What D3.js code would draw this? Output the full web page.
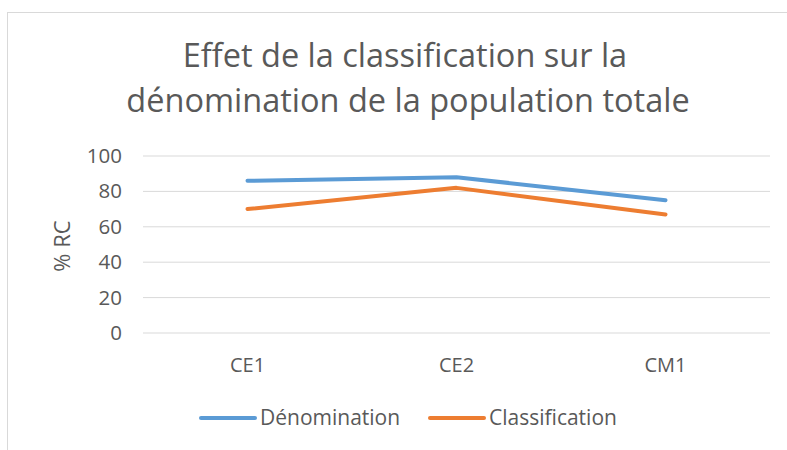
<!DOCTYPE html>
<html>
<head>
<meta charset="utf-8">
<script src="https://cdn.jsdelivr.net/npm/d3@7"></script>
<style>
  body { margin: 0; background: #fff; }
  text { font-family: "Open Sans", "Liberation Sans", sans-serif; fill: #595959; }
</style>
</head>
<body>
<div id="chart"></div>
<script>
// data
const categories = ["CE1", "CE2", "CM1"];
const denomination = [86, 88, 75];
const classification = [70, 82, 67];
const yTicks = [0, 20, 40, 60, 80, 100];
const seriesNames = ["Dénomination", "Classification"];
const colors = ["#5B9BD5", "#ED7D31"];

const width = 787, height = 450;

const svg = d3.select("#chart")
  .append("svg")
  .attr("width", width)
  .attr("height", height);

//chart frame
svg.append("rect")
  .attr("x", 7.5).attr("y", 12.5)
  .attr("width", 790).attr("height", 450)
  .attr("fill", "#fff")
  .attr("stroke", "#d9d9d9");

//scales
const x = d3.scaleBand().domain(categories).range([143, 770]);
const y = d3.scaleLinear().domain([0, 100]).range([333, 156]);

//gridlines
svg.append("g")
  .selectAll("line")
  .data(yTicks)
  .join("line")
  .attr("x1", 143).attr("x2", 770)
  .attr("y1", (d) => y(d)).attr("y2", (d) => y(d))
  .attr("stroke", "#d9d9d9")
  .attr("stroke-width", 1);

//y axis
const yAxis = d3.axisLeft(y).tickValues(yTicks).tickSize(0).tickPadding(0);
svg.append("g")
  .attr("transform", "translate(122,0)")
  .call(yAxis)
  .call((g) => g.select(".domain").remove())
  .selectAll("text")
  .style("font-family", null)
  .style("font-size", "20.5px")
  .style("fill", "#595959");

//x axis
const xAxis = d3.axisBottom(x).tickSize(0).tickPadding(0);
svg.append("g")
  .attr("transform", "translate(0,357.5)")
  .call(xAxis)
  .call((g) => g.select(".domain").remove())
  .selectAll("text")
  .style("font-size", "20px")
  .style("fill", "#595959");

//lines
const lineFunc = d3.line()
  .x((d, i) => x(categories[i]) + x.bandwidth() / 2)
  .y((d) => y(d));

[denomination, classification].forEach((s, i) => {
  svg.append("path")
    .attr("d", lineFunc(s))
    .attr("fill", "none")
    .attr("stroke", colors[i])
    .attr("stroke-width", 4)
    .attr("stroke-linecap", "round")
    .attr("stroke-linejoin", "round");
});

//title
const title = svg.append("text")
  .attr("text-anchor", "middle")
  .style("font-size", "32.5px")
  .style("fill", "#595959");
title.append("tspan").attr("x", 405).attr("y", 67).text("Effet de la classification sur la");
title.append("tspan").attr("x", 408).attr("y", 112).text("dénomination de la population totale");

//y label
svg.append("text")
  .attr("transform", "translate(70,246) rotate(-90)")
  .attr("text-anchor", "middle")
  .style("font-size", "22px")
  .text("% RC");

//legend
const legendX = [201, 430];
seriesNames.forEach((name, i) => {
  svg.append("line")
    .attr("x1", legendX[i]).attr("x2", legendX[i] + 54)
    .attr("y1", 418).attr("y2", 418)
    .attr("stroke", colors[i])
    .attr("stroke-width", 4)
    .attr("stroke-linecap", "round");
  svg.append("text")
    .attr("x", legendX[i] + 59)
    .attr("y", 425)
    .style("font-size", "21px")
    .text(name);
});
</script>
</body>
</html>
